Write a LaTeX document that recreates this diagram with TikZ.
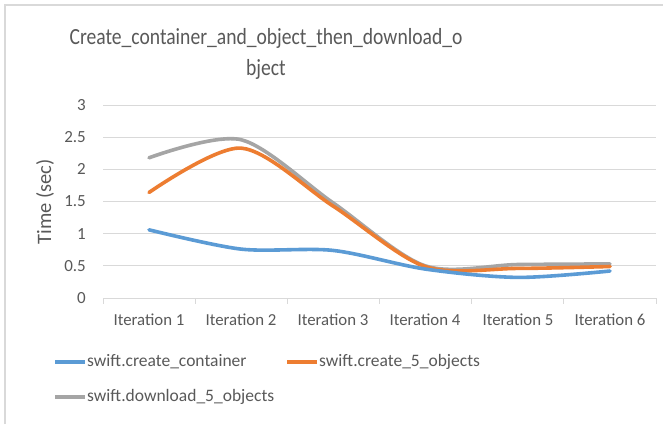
\documentclass[tikz,border=0pt]{standalone}
\usepackage{fontspec}
\setmainfont{Carlito}
\definecolor{txt}{HTML}{595959}
\definecolor{grid}{HTML}{D9D9D9}
\definecolor{sblue}{HTML}{5B9BD5}
\definecolor{sorange}{HTML}{ED7D31}
\definecolor{sgray}{HTML}{A5A5A5}
\tikzset{
  ticklbl/.style={text=txt, font=\fontsize{17bp}{20bp}\selectfont, anchor=east, inner sep=0pt},
  catlbl/.style={text=txt, font=\fontsize{16.8bp}{20bp}\selectfont, inner sep=0pt},
  leglbl/.style={text=txt, font=\fontsize{17.5bp}{21bp}\selectfont, anchor=west, inner sep=0pt},
  titlelbl/.style={text=txt, font=\fontsize{19.6bp}{24bp}\selectfont, anchor=base, inner sep=0pt},
  series/.style={line width=3.6bp, line cap=round, line join=round},
  gridline/.style={draw=grid, line width=1bp},
}
\begin{document}
\begin{tikzpicture}[x=1bp,y=-1bp]
\useasboundingbox[fill=white] (0,0) rectangle (668,424);
% chart border
\draw[grid, line width=1.2bp] (5,424) -- (5,5) -- (663,5);
% title
\node[titlelbl] (t1) at (266,44) {\scalebox{1}[1.18]{Create\_container\_and\_object\_then\_download\_o}};
\node[titlelbl] (t2) at (266,75) {\scalebox{1}[1.18]{bject}};
% gridlines and tick labels
\foreach \v in {0.5,1,1.5,2,2.5,3}{
  \draw[gridline] (103,{298-\v*64.33}) -- (656,{298-\v*64.33});
}
\foreach \v/\lab/\nm in {0/0/y0,0.5/0.5/y05,1/1/y1,1.5/1.5/y15,2/2/y2,2.5/2.5/y25,3/3/y3}{
  \node[ticklbl] (\nm) at (86,{298-\v*64.33}) {\lab};
}
% x axis
\draw[gridline] (103,298) -- (656,298);
\foreach \x in {103,195.2,287.3,379.5,471.7,563.8,656}{
  \draw[gridline] (\x,298) -- (\x,304);
}
\foreach \i/\x in {1/149,2/241,3/333,4/425,5/518,6/610}{
  \node[catlbl] (c\i) at (\x,320) {Iteration \i};
}
% axis title
\node[text=txt, font=\fontsize{20.5bp}{24bp}\selectfont, rotate=90, inner sep=0pt] (ytitle) at (45,202) {Time (sec)};
% series
\draw[series, sgray] plot[smooth] coordinates {(149,157.8) (241,139.7) (333,202.8) (425,265.8) (518,264.5) (610,263.9)};
\draw[series, sorange] plot[smooth] coordinates {(149,192.5) (241,148.1) (333,206.0) (425,266.5) (518,268.4) (610,266.5)};
\draw[series, sblue] plot[smooth] coordinates {(149,229.8) (241,249.1) (333,250.4) (425,269.0) (518,277.4) (610,271.0)};
% legend
\coordinate (l1a) at (55,362); \coordinate (l1b) at (85,362);
\coordinate (l2a) at (287,362); \coordinate (l2b) at (317,362);
\coordinate (l3a) at (55,397); \coordinate (l3b) at (85,397);
\draw[series, sblue, line cap=butt] (l1a) -- (l1b);
\draw[series, sorange, line cap=butt] (l2a) -- (l2b);
\draw[series, sgray, line cap=butt] (l3a) -- (l3b);
\node[leglbl] (g1) at (87,362) {swift.create\_container};
\node[leglbl] (g2) at (319,362) {swift.create\_5\_objects};
\node[leglbl] (g3) at (87,397) {swift.download\_5\_objects};
\end{tikzpicture}
\end{document}
